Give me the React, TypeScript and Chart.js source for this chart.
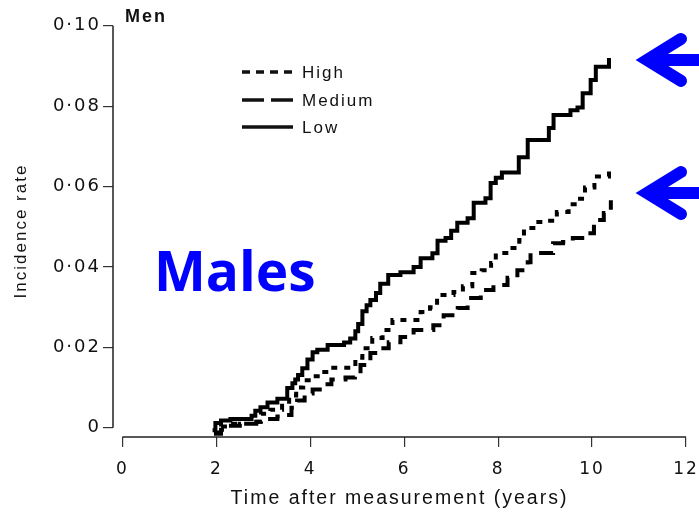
import React, { useEffect, useRef } from "react";
import { Chart, registerables } from "chart.js";

Chart.register(...registerables);

// Cumulative incidence step curves (time in years, incidence rate)
const highTimes = [1.95, 2.1, 2.3, 2.75, 2.95, 3.15, 3.4, 3.55, 3.7, 3.85, 4.05, 4.21, 4.43, 4.96, 5.11, 5.32, 5.54, 5.75, 6.35, 6.55, 6.7, 7.05, 7.25, 7.45, 7.65, 7.85, 7.95, 8.25, 8.45, 8.55, 8.75, 9.05, 9.25, 9.5, 9.7, 9.85, 10.05, 10.36];
const highRates = [-0.0012, 0.0003, 0.001, 0.0015, 0.0035, 0.0045, 0.0055, 0.008, 0.01, 0.0118, 0.0128, 0.0139, 0.0149, 0.0174, 0.0198, 0.0223, 0.0243, 0.0268, 0.0288, 0.03, 0.033, 0.0338, 0.0352, 0.0385, 0.0392, 0.041, 0.0435, 0.0447, 0.0467, 0.0497, 0.0512, 0.0515, 0.0537, 0.0556, 0.057, 0.0598, 0.0625, 0.064];

const mediumTimes = [1.95, 2.1, 2.25, 2.5, 2.85, 3.05, 3.3, 3.5, 3.6, 3.72, 3.88, 4.05, 4.25, 4.45, 4.75, 4.95, 5.07, 5.28, 5.49, 5.67, 5.92, 6.2, 6.62, 6.84, 7.14, 7.35, 7.63, 7.9, 8.2, 8.41, 8.63, 8.69, 9.17, 9.38, 9.59, 9.91, 10.04, 10.25, 10.4];
const mediumRates = [-0.0015, -0.0005, 0.0005, 0.001, 0.0015, 0.0022, 0.0028, 0.0032, 0.005, 0.0068, 0.0085, 0.0095, 0.0108, 0.012, 0.0125, 0.0135, 0.0156, 0.0186, 0.0198, 0.0213, 0.0226, 0.0243, 0.0255, 0.028, 0.0298, 0.0323, 0.0343, 0.0355, 0.0373, 0.0392, 0.0412, 0.0435, 0.0459, 0.0462, 0.0472, 0.0484, 0.0517, 0.0534, 0.0566];

const lowTimes = [1.92, 1.98, 2.1, 2.3, 2.75, 2.83, 2.94, 3.09, 3.3, 3.51, 3.62, 3.68, 3.74, 3.83, 3.94, 4.05, 4.15, 4.37, 4.72, 4.85, 4.96, 5.02, 5.11, 5.2, 5.28, 5.4, 5.49, 5.66, 5.92, 6.2, 6.35, 6.6, 6.71, 6.88, 7.0, 7.13, 7.35, 7.48, 7.73, 7.84, 7.95, 8.08, 8.44, 8.63, 9.08, 9.18, 9.54, 9.69, 9.8, 9.97, 10.08, 10.36];
const lowRates = [-0.0006, 0.0012, 0.0018, 0.0022, 0.003, 0.0042, 0.0051, 0.0063, 0.0072, 0.0099, 0.0111, 0.012, 0.0131, 0.0148, 0.017, 0.0188, 0.0194, 0.0206, 0.0212, 0.0222, 0.024, 0.0258, 0.029, 0.0305, 0.0318, 0.0335, 0.0358, 0.038, 0.0387, 0.04, 0.0422, 0.0434, 0.0465, 0.0472, 0.049, 0.051, 0.0521, 0.056, 0.0571, 0.0609, 0.0622, 0.0635, 0.0673, 0.0716, 0.0746, 0.0778, 0.079, 0.0797, 0.0832, 0.0865, 0.0898, 0.092];

const seriesNames = ["High", "Medium", "Low"];
const xTickValues = [0, 2, 4, 6, 8, 10, 12];
const yTickValues = [0, 0.02, 0.04, 0.06, 0.08, 0.1];
const yTickLabels = ["0", "0·02", "0·04", "0·06", "0·08", "0·10"];
// Incidence levels the two blue call-out arrows point at
const arrowLevels = [0.0915, 0.0584];

const INK = "#111";
const BLUE = "#0000ff";
const seriesDash = [[6, 7], [14, 9], []];
const legendDash = [[8, 6], [22, 7], []];

const toPoints = (ts: number[], vs: number[]) => ts.map((t, i) => ({ x: t, y: vs[i] }));

const decorPlugin = {
  id: "decor",
  beforeDraw(chart: any) {
    chart.ctx.letterSpacing = "2px";
  },
  afterDraw(chart: any) {
    const { ctx, chartArea, scales } = chart;
    const xs = scales.x;
    const ys = scales.y;
    ctx.save();
    ctx.letterSpacing = "0px";

    // Axis lines spanning the tick range only
    ctx.strokeStyle = "#222";
    ctx.lineWidth = 1.5;
    ctx.beginPath();
    ctx.moveTo(chartArea.left, ys.getPixelForValue(yTickValues[0]));
    ctx.lineTo(chartArea.left, ys.getPixelForValue(yTickValues[yTickValues.length - 1]));
    ctx.moveTo(xs.getPixelForValue(xTickValues[0]), chartArea.bottom);
    ctx.lineTo(xs.getPixelForValue(xTickValues[xTickValues.length - 1]), chartArea.bottom);
    ctx.stroke();

    // Panel label
    ctx.letterSpacing = "2px";
    ctx.fillStyle = INK;
    ctx.font = "bold 18px 'Liberation Sans', Arial, sans-serif";
    ctx.textBaseline = "alphabetic";
    ctx.textAlign = "left";
    ctx.fillText("Men", chartArea.left + 12, 22);

    // Legend
    const lx = chartArea.left + 129;
    const ly = [72, 100, 127];
    ctx.font = "17px 'Liberation Sans', Arial, sans-serif";
    ctx.textBaseline = "middle";
    seriesNames.forEach((name, i) => {
      ctx.strokeStyle = INK;
      ctx.lineWidth = 3.5;
      ctx.lineCap = "butt";
      ctx.setLineDash(legendDash[i]);
      ctx.beginPath();
      ctx.moveTo(lx, ly[i]);
      ctx.lineTo(lx + 51, ly[i]);
      ctx.stroke();
      ctx.setLineDash([]);
      ctx.fillText(name, lx + 60, ly[i] + 1);
    });

    // Big blue label
    ctx.letterSpacing = "0px";
    ctx.fillStyle = BLUE;
    ctx.font = "bold 55px 'Open Sans', sans-serif";
    ctx.textBaseline = "alphabetic";
    ctx.fillText("Males", 154, 291);

    // Call-out arrows at the right edge
    const w = chart.width;
    arrowLevels.forEach((lvl) => {
      const y = ys.getPixelForValue(lvl);
      ctx.strokeStyle = BLUE;
      ctx.lineWidth = 12;
      ctx.lineJoin = "miter";
      ctx.lineCap = "round";
      ctx.beginPath();
      ctx.moveTo(681, y - 21);
      ctx.lineTo(647, y);
      ctx.lineTo(681, y + 21);
      ctx.stroke();
      ctx.lineCap = "butt";
      ctx.beginPath();
      ctx.moveTo(650, y);
      ctx.lineTo(w + 2, y);
      ctx.stroke();
    });
    ctx.restore();
  },
};

export default function App() {
  const canvasRef = useRef<HTMLCanvasElement | null>(null);

  useEffect(() => {
    const canvas = canvasRef.current;
    if (!canvas) return;
    const lineSet = [
      toPoints(highTimes, highRates),
      toPoints(mediumTimes, mediumRates),
      toPoints(lowTimes, lowRates),
    ];
    const chart = new Chart(canvas, {
      type: "line",
      data: {
        datasets: seriesNames.map((name, i) => ({
          label: name,
          data: lineSet[i],
          borderColor: "#000",
          borderWidth: 4,
          borderDash: seriesDash[i],
          borderCapStyle: "butt",
          stepped: true,
          pointRadius: 0,
          fill: false,
        })),
      },
      options: {
        responsive: false,
        animation: false,
        devicePixelRatio: 1,
        layout: { padding: { left: 0, right: 13, top: 25, bottom: 0 } },
        plugins: { legend: { display: false }, tooltip: { enabled: false } },
        scales: {
          x: {
            type: "linear",
            min: -0.2,
            max: 12,
            afterBuildTicks: (s: any) => {
              s.ticks = xTickValues.map((v) => ({ value: v }));
            },
            afterFit: (s: any) => {
              s.height = 78;
              s.paddingLeft = 0;
              s.paddingRight = 0;
            },
            grid: { drawOnChartArea: false, drawTicks: true, tickLength: 10, color: "#333", lineWidth: 1.2 },
            border: { display: false },
            ticks: {
              color: INK,
              font: { family: "'DejaVu Sans', sans-serif", size: 17 },
              padding: 12,
              maxRotation: 0,
              autoSkip: false,
              callback: (v: any) => String(v),
            },
            title: {
              display: true,
              text: "Time after measurement (years)",
              color: INK,
              font: { family: "'Liberation Sans', Arial, sans-serif", size: 19.5 },
              padding: { top: 0, bottom: 5 },
            },
          },
          y: {
            type: "linear",
            min: -0.0023,
            max: 0.1002,
            afterBuildTicks: (s: any) => {
              s.ticks = yTickValues.map((v) => ({ value: v }));
            },
            afterFit: (s: any) => {
              s.width = 113;
            },
            grid: { drawOnChartArea: false, drawTicks: true, tickLength: 10, color: "#333", lineWidth: 1.2 },
            border: { display: false },
            ticks: {
              color: INK,
              font: { family: "'DejaVu Sans', sans-serif", size: 18 },
              padding: 2,
              autoSkip: false,
              callback: (v: any) => {
                const k = yTickValues.findIndex((t) => Math.abs(t - Number(v)) < 1e-9);
                return k >= 0 ? yTickLabels[k] : "";
              },
            },
            title: {
              display: true,
              text: "Incidence rate",
              color: INK,
              font: { family: "'Liberation Sans', Arial, sans-serif", size: 17 },
              padding: { top: 11, bottom: 0 },
            },
          },
        },
      },
      plugins: [decorPlugin],
    } as any);
    return () => chart.destroy();
  }, []);

  return (
    <div style={{ position: "fixed", left: 0, top: 0, width: 699, height: 515, background: "#fff" }}>
      <canvas ref={canvasRef} width={699} height={515} style={{ display: "block" }} />
    </div>
  );
}
